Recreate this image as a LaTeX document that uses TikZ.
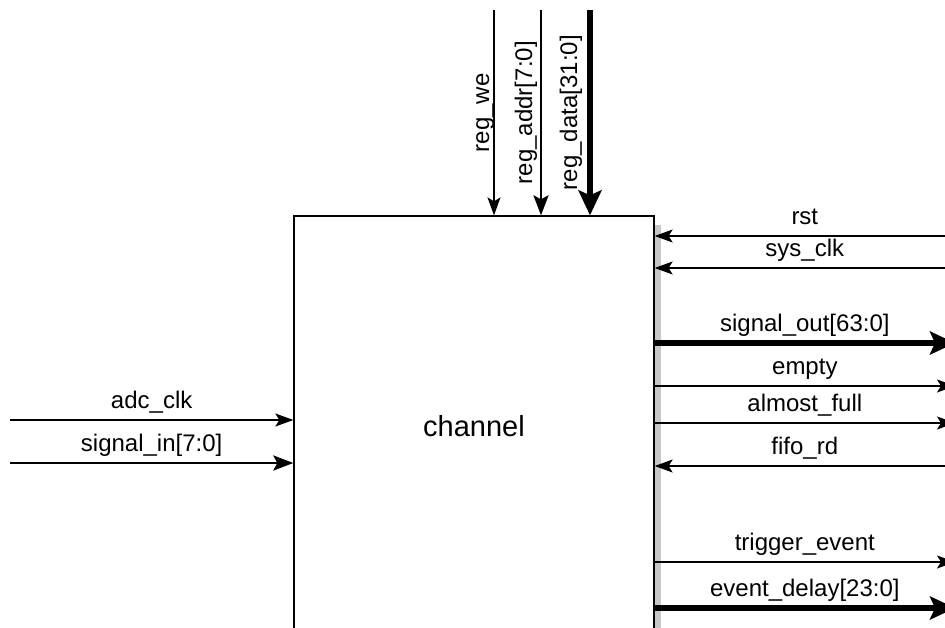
\documentclass[tikz,border=0pt]{standalone}
\usepackage{fontspec}
\setmainfont{Liberation Sans}
\usetikzlibrary{arrows.meta,calc}
\begin{document}
\begin{tikzpicture}[x=1pt,y=-1pt,
  sig/.style={line width=1.3pt,-{Stealth[length=18pt,width=13pt,inset=4pt]}},
  bus/.style={line width=2.7pt,-{Stealth[length=20pt,width=15pt,inset=4pt]}},
  wide/.style={line width=6pt,-{Stealth[length=25pt,width=23pt,inset=5pt]}},
  lbl/.style={font=\fontsize{24}{28}\selectfont, anchor=base, inner sep=0pt},
  vlbl/.style={lbl, rotate=90},
]
\useasboundingbox (0,0) rectangle (945,627);
\clip (0,0) rectangle (945,627);

% drop shadow of the block
\fill[black!22] (654,225) rectangle (661,660);

% the block itself
\node[draw, line width=1.3pt, fill=white, minimum width=360pt, minimum height=420pt,
      inner sep=0pt, font=\fontsize{29}{34}\selectfont] (ch) at (474,426) {channel};

% register interface from the top
\coordinate (weT) at (494,10);
\coordinate (addrT) at (541,10);
\coordinate (dataT) at (590,10);
\draw[sig]  (weT)   -- (weT   |- ch.north);
\draw[bus]  (addrT) -- (addrT |- ch.north);
\draw[wide] (dataT) -- (dataT |- ch.north);
\node[vlbl] (weL)   at ($(weT)!0.5!(weT |- ch.north)+(-5,0)$) {reg\_we};
\node[vlbl] (addrL) at ($(addrT)!0.5!(addrT |- ch.north)+(-9,0)$) {reg\_addr[7:0]};
\node[vlbl] (dataL) at ($(dataT)!0.5!(dataT |- ch.north)+(-13,0)$) {reg\_data[31:0]};

% inputs on the left
\coordinate (adcW) at (10,420);
\coordinate (sinW) at (10,463);
\draw[sig] (adcW) -- (ch.west |- adcW);
\draw[bus] (sinW) -- (ch.west |- sinW);
\node[lbl] (adcL) at ($(adcW)!0.5!(ch.west |- adcW)+(0,-12)$) {adc\_clk};
\node[lbl] (sinL) at ($(sinW)!0.5!(ch.west |- sinW)+(0,-12)$) {signal\_in[7:0]};

% ports on the right
\coordinate (rstE)  at (955,236);
\coordinate (sclkE) at (955,268);
\coordinate (soutE) at (955,343);
\coordinate (empE)  at (955,386);
\coordinate (afE)   at (955,423);
\coordinate (frdE)  at (955,466);
\coordinate (trgE)  at (955,562);
\coordinate (edlE)  at (955,608);
\draw[sig]  (rstE)  -- (ch.east |- rstE);
\draw[sig]  (sclkE) -- (ch.east |- sclkE);
\draw[wide] (ch.east |- soutE) -- (soutE);
\draw[sig]  (ch.east |- empE) -- (empE);
\draw[sig]  (ch.east |- afE) -- (afE);
\draw[sig]  (frdE)  -- (ch.east |- frdE);
\draw[sig]  (ch.east |- trgE) -- (trgE);
\draw[wide] (ch.east |- edlE) -- (edlE);
\node[lbl] (rstL)  at ($(rstE)!0.5!(ch.east |- rstE)+(0,-12)$) {rst};
\node[lbl] (sclkL) at ($(sclkE)!0.5!(ch.east |- sclkE)+(0,-12)$) {sys\_clk};
\node[lbl] (soutL) at ($(soutE)!0.5!(ch.east |- soutE)+(0,-12)$) {signal\_out[63:0]};
\node[lbl] (empL)  at ($(empE)!0.5!(ch.east |- empE)+(0,-12)$) {empty};
\node[lbl] (afL)   at ($(afE)!0.5!(ch.east |- afE)+(0,-12)$) {almost\_full};
\node[lbl] (frdL)  at ($(frdE)!0.5!(ch.east |- frdE)+(0,-12)$) {fifo\_rd};
\node[lbl] (trgL)  at ($(trgE)!0.5!(ch.east |- trgE)+(0,-12)$) {trigger\_event};
\node[lbl] (edlL)  at ($(edlE)!0.5!(ch.east |- edlE)+(0,-12)$) {event\_delay[23:0]};
\end{tikzpicture}
\end{document}
